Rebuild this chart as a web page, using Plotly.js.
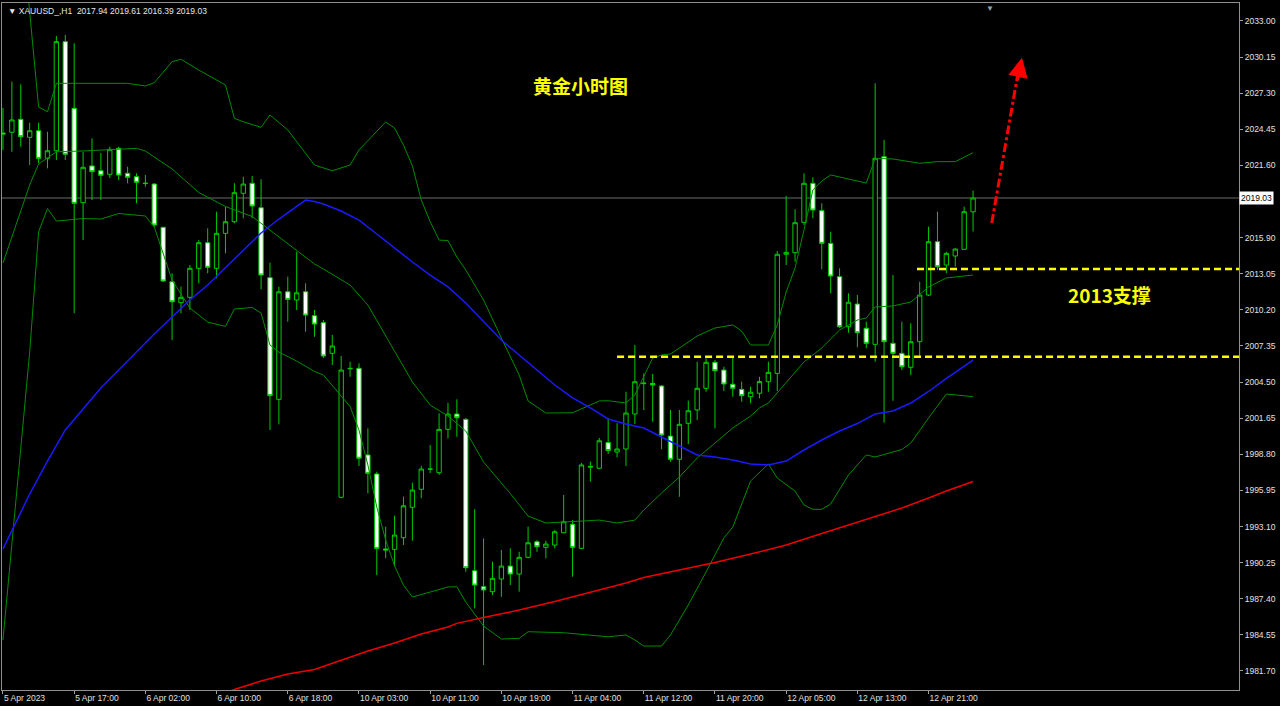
<!DOCTYPE html>
<html>
<head>
<meta charset="utf-8">
<script src="https://cdn.plot.ly/plotly-3.0.1.min.js"></script>
<style>html,body{margin:0;padding:0;background:#000;}#chart{width:1280px;height:706px;}</style>
</head>
<body>
<div id="chart"></div>
<script>
// ---- Data (XAUUSD H1) ----
const symbol = "XAUUSD_,H1";
const openP = [
2024.16,2024.22,2025.24,2023.82,2024.34,2022.16,2022.76,2031.37,2026.11,2018.66,
2021.56,2021.18,2020.90,2022.95,2020.98,2020.71,2020.21,2020.13,2016.72,2012.42,
2010.77,2011.19,2013.48,2015.50,2013.48,2016.24,2017.16,2019.40,2020.19,2018.26,
2012.74,2003.14,2011.63,2010.98,2011.63,2009.74,2009.19,2006.77,1995.41,2005.59,
2005.59,1998.75,1997.25,1991.33,1991.30,1992.22,1994.62,1996.04,1997.62,1997.35,
2000.77,2001.98,2001.56,1989.61,1988.35,1987.96,1988.96,1989.98,1989.35,1990.67,
1991.90,1991.46,1991.64,1992.61,1993.28,1991.38,1997.85,1997.70,1999.73,1998.98,
1999.22,2001.98,2004.38,2004.40,2004.19,2000.24,1998.41,2001.25,2002.30,2004.01,
2006.06,2005.45,2004.33,2003.93,2003.35,2003.62,2004.53,2005.19,2014.59,2014.71,
2017.11,2020.19,2018.03,2015.45,2012.82,2008.87,2010.66,2008.75,2007.48,2022.29,
2007.56,2006.77,2005.67,2007.69,2011.37,2015.58,2013.74,2014.45,2014.98,2017.94];
const highP = [
2026.13,2028.21,2028.00,2024.97,2024.97,2024.26,2031.82,2031.90,2031.24,2022.68,
2023.74,2022.58,2023.08,2023.08,2021.50,2020.98,2020.84,2020.21,2016.74,2013.09,
2012.03,2013.74,2015.71,2016.64,2017.95,2018.34,2020.19,2020.71,2020.77,2020.51,
2013.92,2012.03,2012.82,2014.79,2012.30,2010.19,2009.40,2008.22,2006.56,2006.11,
2005.98,2000.85,1997.43,1993.09,1993.96,1995.45,1996.56,1997.88,1999.53,2002.04,
2002.87,2003.14,2001.67,1994.46,1992.17,1990.33,1991.25,1991.38,1991.11,1993.09,
1992.04,1991.98,1992.82,1995.59,1993.62,1998.12,1998.22,2000.09,2001.64,2001.25,
2003.74,2007.43,2005.19,2005.14,2004.27,2002.30,2002.30,2003.03,2006.11,2006.38,
2006.24,2005.71,2006.50,2004.53,2004.14,2004.92,2006.11,2014.85,2019.19,2018.14,
2020.98,2020.66,2018.61,2016.37,2013.48,2011.51,2011.37,2009.27,2028.08,2023.61,
2012.95,2009.27,2009.14,2012.42,2016.77,2017.95,2014.79,2015.06,2018.34,2019.61];
const lowP = [
2022.82,2022.68,2023.08,2021.63,2021.77,2021.37,2022.03,2022.03,2009.93,2015.71,
2018.87,2018.87,2020.61,2020.45,2020.19,2018.61,2019.92,2016.74,2012.40,2007.82,
2009.93,2010.19,2012.30,2013.09,2012.69,2014.66,2017.03,2017.43,2017.43,2011.82,
2000.72,2001.17,2009.27,2010.19,2008.48,2008.08,2006.40,2005.85,1995.33,2004.92,
1997.88,1995.72,1989.27,1990.59,1989.93,1991.64,1991.98,1995.33,1997.32,1997.17,
2000.06,2000.19,1989.53,1986.64,1982.17,1987.70,1987.56,1988.48,1987.96,1990.59,
1991.11,1990.59,1991.38,1992.57,1989.14,1991.33,1996.64,1997.64,1998.82,1998.56,
1997.88,2001.19,2002.30,2001.37,1999.20,1998.22,1995.45,1999.61,2001.51,2003.74,
2000.85,2003.80,2003.35,2002.95,2002.82,2003.22,2003.74,2003.80,2013.74,2014.00,
2016.90,2017.43,2013.40,2011.51,2008.77,2008.40,2007.25,2007.17,2006.11,2001.30,
2003.03,2005.45,2005.06,2006.50,2011.29,2013.35,2013.09,2013.61,2014.93,2016.39];
const closeP = [
2024.08,2025.19,2023.87,2024.34,2022.16,2022.76,2031.37,2022.48,2018.61,2021.45,
2021.11,2020.82,2022.87,2020.84,2020.66,2020.27,2020.17,2016.90,2012.48,2010.84,
2011.19,2013.48,2015.50,2013.56,2016.24,2017.16,2019.45,2020.13,2018.40,2012.95,
2003.43,2011.63,2011.03,2011.55,2009.79,2009.08,2006.56,2007.35,2005.45,2005.56,
1998.49,1997.30,1991.38,1991.25,1992.43,1994.74,1995.98,1997.64,1997.64,2000.77,
2001.98,2001.69,1989.85,1988.48,1988.09,1989.01,1989.98,1989.35,1990.67,1991.82,
1991.51,1991.72,1992.69,1993.48,1991.46,1997.96,1997.80,1999.87,1999.10,1999.22,
2002.06,2004.53,2004.42,2004.27,2000.32,1998.41,2001.17,2002.24,2004.01,2006.06,
2005.40,2004.35,2004.01,2003.43,2003.70,2004.55,2005.27,2014.59,2014.74,2017.08,
2020.19,2018.08,2015.45,2012.87,2008.87,2010.80,2008.40,2007.56,2022.16,2007.69,
2006.77,2005.71,2007.69,2011.37,2015.58,2013.61,2014.66,2015.00,2017.95,2019.03];

// Bollinger bands (read at bar positions)
const upperX = [2,3,4,5,6,8,10,12,14,16,17,19,20,22,25,26,27,29,30,32,35,37,39,40,42,43,44,45,46,47,48,49,50,51,52,54,56,58,59,61,64,65,67,68,70,71,73,74,75,77,78,80,82,83,84,86,87,88,89,90,91,92,93,94,97,98,100,103,105,107,109];
const upperY = [2042,2033.71,2026.21,2025.84,2028.08,2028.08,2028.08,2028.08,2028.08,2027.87,2028.13,2029.79,2029.98,2029.13,2027.95,2025.32,2025.05,2024.61,2025.58,2024.40,2021.63,2021.18,2021.63,2022.82,2024.24,2025.03,2024.55,2023.21,2021.56,2018.87,2017.16,2015.71,2015.67,2014.37,2013.35,2010.98,2007.98,2005.06,2003.01,2002.06,2002.08,2002.38,2003.01,2003.03,2002.85,2003.48,2006.40,2006.64,2006.72,2007.66,2008.14,2008.77,2009.01,2008.53,2007.43,2007.43,2009.01,2011.61,2013.51,2016.50,2019.66,2020.37,2020.85,2020.69,2020.21,2022.16,2022.11,2021.77,2021.90,2021.90,2022.61];
const middleX = [0,3,4,6,9,12,15,16,19,22,25,28,30,33,35,36,39,41,43,46,48,50,52,54,57,59,61,64,67,69,71,72,74,76,78,80,82,84,85,86,88,90,92,94,96,97,98,100,102,104,106,109];
const middleY = [2013.90,2020.06,2021.71,2022.68,2022.74,2022.87,2022.95,2022.74,2021.32,2019.46,2018.36,2017.57,2016.50,2014.93,2013.82,2013.43,2012.16,2010.58,2008.14,2004.51,2002.69,2001.82,2000.64,1998.19,1995.71,1993.93,1993.38,1993.48,1993.61,1993.38,1993.61,1994.40,1995.75,1997.01,1998.51,1999.69,2000.88,2001.82,2002.46,2002.85,2004.51,2006.09,2007.19,2008.61,2009.40,2009.56,2010.43,2010.51,2010.82,2012.01,2012.72,2012.95];
const lowerX = [0,2,3,4,5,6,9,11,13,16,17,19,21,23,25,26,28,29,30,31,33,35,36,39,40,41,42,43,44,45,46,48,50,51,52,54,56,58,59,63,66,68,70,71,72,74,75,77,79,81,82,84,86,87,89,90,91,92,93,95,97,98,101,102,104,106,109];
const lowerY = [1984.15,1999.32,2006.87,2016.35,2018.20,2017.21,2017.41,2017.37,2017.81,2017.61,2016.74,2012.56,2010.35,2009.24,2008.89,2010.27,2010.39,2009.95,2007.43,2006.87,2006.16,2005.34,2005.06,2002.57,2000.72,1997.96,1994.64,1992.04,1989.99,1988.48,1987.54,1987.93,1988.33,1988.35,1987.14,1985.25,1984.22,1984.28,1984.80,1984.72,1984.54,1984.40,1984.54,1984.15,1983.67,1983.67,1984.54,1986.91,1989.52,1992.20,1993.06,1996.69,1998.04,1996.93,1995.90,1994.80,1994.46,1994.46,1994.88,1997.17,1998.75,1998.59,1999.18,1999.69,2001.67,2003.56,2003.35];
// Moving averages
const blueX = [0,2,3,5,7,9,11,13,15,17,19,21,23,25,27,29,31,33,34,35,36,38,40,42,44,46,48,50,52,54,56,58,60,62,64,66,68,70,72,74,76,78,80,82,84,86,88,90,92,94,96,98,100,102,104,106,109];
const blueY = [1991.33,1994.17,1995.67,1998.27,2000.72,2002.38,2004.03,2005.45,2006.88,2008.30,2009.64,2010.98,2012.16,2013.51,2014.93,2016.27,2017.37,2018.40,2018.87,2018.75,2018.56,2018.00,2017.29,2016.19,2015.08,2013.98,2012.95,2012.01,2010.74,2009.24,2007.82,2006.64,2005.45,2004.27,2003.25,2002.46,2001.59,2001.19,2000.88,2000.17,1999.46,1998.75,1998.59,1998.35,1998.04,1997.96,1998.27,1999.14,1999.93,2000.64,2001.23,2001.98,2002.22,2002.85,2003.76,2004.79,2006.24];
const redX = [25,26,29,32,35,38,41,44,47,50,51,54,58,62,66,70,72,76,80,84,88,92,95,98,101,104,106,109];
const redY = [1979.96,1980.24,1980.91,1981.46,1981.82,1982.57,1983.28,1983.91,1984.62,1985.17,1985.46,1985.92,1986.51,1987.18,1987.93,1988.64,1989.08,1989.67,1990.26,1990.93,1991.64,1992.55,1993.22,1993.93,1994.56,1995.35,1995.90,1996.65];

// Time axis labels (every 8 bars)
const tickBars = [0,8,16,24,32,40,48,56,64,72,80,88,96,104];
const tickLabels = ["5 Apr 2023","5 Apr 17:00","6 Apr 02:00","6 Apr 10:00","6 Apr 18:00","10 Apr 03:00","10 Apr 11:00","10 Apr 19:00","11 Apr 04:00","11 Apr 12:00","11 Apr 20:00","12 Apr 05:00","12 Apr 13:00","12 Apr 21:00"];
// Price axis labels (the one under the current-price box is hidden by it)
const priceTicks = [1981.70,1984.55,1987.40,1990.25,1993.10,1995.95,1998.80,2001.65,2004.50,2007.35,2010.20,2013.05,2015.90,2021.60,2024.45,2027.30,2030.15,2033.00];

// Support levels and labels
const supportLevels = [2006.51, 2013.43];
const supportStartBar = [69.0, 102.7];
const titleText = "黄金小时图";
const supportText = "2013支撑";

// ---- Build chart ----
const bars = openP.map((_, i) => i);
const last = openP.length - 1;
const candleLine = '#00cc00';
const bandColor = '#008c00';
const font = 'Liberation Sans, Arial, sans-serif';

const traces = [
  {type:'scatter', mode:'lines', x:upperX, y:upperY, line:{color:bandColor, width:1}, hoverinfo:'skip'},
  {type:'scatter', mode:'lines', x:middleX, y:middleY, line:{color:bandColor, width:1}, hoverinfo:'skip'},
  {type:'scatter', mode:'lines', x:lowerX, y:lowerY, line:{color:bandColor, width:1}, hoverinfo:'skip'},
  {type:'scatter', mode:'lines', x:blueX, y:blueY, line:{color:'#1a1aff', width:1.5}, hoverinfo:'skip'},
  {type:'scatter', mode:'lines', x:redX, y:redY, line:{color:'#ee0000', width:1.5}, hoverinfo:'skip'},
  {type:'candlestick', x:bars, open:openP, high:highP, low:lowP, close:closeP,
    increasing:{line:{color:candleLine, width:1}, fillcolor:'#000000'},
    decreasing:{line:{color:candleLine, width:1}, fillcolor:'#ffffff'},
    whiskerwidth:0, hoverinfo:'skip'}
];

const fmt = v => v.toFixed(2);
const header = '\u25BC ' + symbol + '  ' + fmt(openP[last]) + ' ' + fmt(highP[last]) + ' ' + fmt(lowP[last]) + ' ' + fmt(closeP[last]);

const shapes = [
  {type:'line', xref:'paper', x0:0, x1:1, yref:'y', y0:closeP[last], y1:closeP[last], line:{color:'#6a6a6a', width:1}, layer:'below'},
  {type:'line', xref:'x', x0:supportStartBar[0], x1:138.9, yref:'y', y0:supportLevels[0], y1:supportLevels[0], line:{color:'#ffff00', width:2.5, dash:'7px,4px'}},
  {type:'line', xref:'x', x0:supportStartBar[1], x1:138.9, yref:'y', y0:supportLevels[1], y1:supportLevels[1], line:{color:'#ffff00', width:2.5, dash:'7px,4px'}},
  {type:'line', xref:'x', x0:111.1, x1:114.0, yref:'y', y0:2017.06, y1:2028.7, line:{color:'#ff0000', width:3, dash:'dashdot'}}
];

const annotations = [
  {xref:'paper', yref:'paper', x:0, y:1, xanchor:'left', yanchor:'top', xshift:4, yshift:-1, showarrow:false,
   text:header, font:{family:font, size:8.5, color:'#e6e6e6'}},
  {xref:'paper', yref:'paper', x:0.7987, y:1, xanchor:'center', yanchor:'top', yshift:1, showarrow:false,
   text:'\u25BC', font:{family:font, size:8, color:'#8ea2b4'}},
  {xref:'paper', yref:'paper', x:0.4673, y:0.8806, xanchor:'center', yanchor:'middle', showarrow:false,
   text:titleText, font:{family:'Noto Sans CJK SC', size:19, color:'#ffff00', weight:'bold'}},
  {xref:'paper', yref:'paper', x:0.8957, y:0.575, xanchor:'center', yanchor:'middle', showarrow:false,
   text:supportText, font:{family:'Noto Sans CJK SC', size:19, color:'#ffff00', weight:'bold'}},
  {xref:'x', yref:'y', x:114.5, y:2030.1, ax:-5, ay:24, axref:'pixel', ayref:'pixel', showarrow:true,
   arrowhead:2, arrowsize:1.3, arrowwidth:3, arrowcolor:'#ff0000', text:''},
  {xref:'paper', yref:'y', x:1, y:closeP[last], xanchor:'left', yanchor:'middle', showarrow:false,
   text:fmt(closeP[last]), bgcolor:'#ffffff', borderpad:1, font:{family:font, size:8.5, color:'#000000'}}
];

const layout = {
  width:1280, height:706,
  paper_bgcolor:'#000000', plot_bgcolor:'#000000',
  margin:{l:2, r:41, t:3, b:16},
  showlegend:false,
  xaxis:{range:[-0.11, 138.88], tickmode:'array', tickvals:tickBars, ticktext:tickLabels,
    ticks:'outside', ticklen:3, tickcolor:'#a0a0a0', showgrid:false, zeroline:false,
    showline:true, mirror:true, linecolor:'#909090', linewidth:1,
    tickfont:{family:font, size:8.5, color:'#e0e0e0'}, ticklabelposition:'outside right',
    rangeslider:{visible:false}, fixedrange:true},
  yaxis:{side:'right', range:[1980.20, 2034.42], tickmode:'array', tickvals:priceTicks,
    ticktext:priceTicks.map(fmt),
    ticks:'outside', ticklen:3, tickcolor:'#a0a0a0', showgrid:false, zeroline:false,
    showline:true, mirror:true, linecolor:'#909090', linewidth:1,
    tickfont:{family:font, size:8.5, color:'#e0e0e0'}, fixedrange:true},
  shapes:shapes, annotations:annotations
};

Plotly.newPlot('chart', traces, layout, {staticPlot:true, displayModeBar:false});
</script>
</body>
</html>
